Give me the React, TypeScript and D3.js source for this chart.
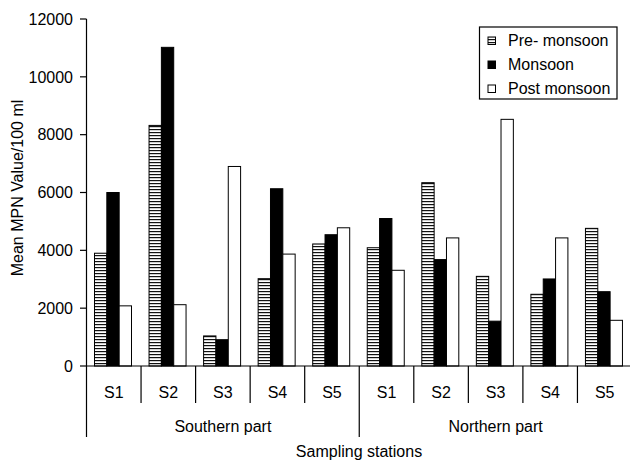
import { scaleBand, scaleLinear } from "d3";

const stations = ["S1", "S2", "S3", "S4", "S5"];
const parts = ["Southern part", "Northern part"];
const seasons = ["Pre- monsoon", "Monsoon", "Post monsoon"];

const southPre = [3900, 8320, 1040, 3020, 4220];
const southMonsoon = [6000, 11020, 910, 6130, 4540];
const southPost = [2080, 2120, 6900, 3870, 4780];

const northPre = [4090, 6340, 3100, 2480, 4760];
const northMonsoon = [5100, 3680, 1550, 3010, 2570];
const northPost = [3310, 4430, 8530, 4430, 1580];

const yTicks = [0, 2000, 4000, 6000, 8000, 10000, 12000];

const FONT = "'Liberation Sans', Arial, sans-serif";
const fontSize = 16;

interface Bar {
	key: string;
	station: string;
	season: string;
	value: number;
}

function buildRows(): Bar[] {
	const rows: Bar[] = [];
	const groups = [
		[southPre, southMonsoon, southPost],
		[northPre, northMonsoon, northPost],
	];
	groups.forEach((series, p) => {
		stations.forEach((station, i) => {
			seasons.forEach((season, s) => {
				rows.push({
					key: `${p}-${station}`,
					station,
					season,
					value: series[s][i],
				});
			});
		});
	});
	return rows;
}

function fillFor(season: string): string {
	if (season === seasons[0]) return "url(#hatch)";
	if (season === seasons[1]) return "#000";
	return "#fff";
}

export default function App() {
	const width = 630;
	const height = 464;
	const left = 86.5;
	const right = 632;
	const top = 19;
	const bottom = 366;

	const keys = parts.flatMap((_, p) => stations.map((s) => `${p}-${s}`));
	const x = scaleBand().domain(keys).range([left, right]);
	const bw = x.bandwidth();
	const x1 = scaleBand().domain(seasons).range([8, 45]);
	const y = scaleLinear().domain([0, 12000]).range([bottom, top]);

	const rows = buildRows();
	const tickBottom = 403;
	const longBottom = 437;

	return (
		<svg width={width} height={height} style={{ position: "absolute", left: 0, top: 0 }} fontFamily={FONT}>
			<defs>
				<pattern id="hatch" patternUnits="userSpaceOnUse" width="4" height="3">
					<rect width="4" height="3" fill="#fff" />
					<rect y="0" width="4" height="1.2" fill="#111" />
				</pattern>
			</defs>
			<rect width={width} height={height} fill="#fff" />

			{rows.map((d, i) => (
				<rect
					key={i}
					x={(x(d.key) ?? 0) + (x1(d.season) ?? 0)}
					y={y(d.value)}
					width={x1.bandwidth()}
					height={bottom - y(d.value)}
					fill={fillFor(d.season)}
					stroke="#000"
					strokeWidth={1}
				/>
			))}

			{/* y axis */}
			<line x1={left} x2={left} y1={top} y2={longBottom} stroke="#000" strokeWidth={1.2} />
			{yTicks.map((t) => (
				<g key={t}>
					<line x1={left - 6.5} x2={left} y1={y(t)} y2={y(t)} stroke="#000" strokeWidth={1.2} />
					<text x={73} y={y(t)} dy="0.36em" textAnchor="end" fontSize={fontSize}>
						{t}
					</text>
				</g>
			))}
			<text
				transform={`translate(17,188) rotate(-90)`}
				textAnchor="middle"
				dy="0.36em"
				fontSize={fontSize}
			>
				Mean MPN Value/100 ml
			</text>

			{/* x axis */}
			<line x1={left} x2={width} y1={bottom} y2={bottom} stroke="#000" strokeWidth={1.2} />
			{keys.map((k, i) => {
				const x0 = x(k) ?? 0;
				const isLong = i % stations.length === 0;
				return (
					<g key={k}>
						{i > 0 && (
							<line
								x1={x0}
								x2={x0}
								y1={bottom}
								y2={isLong ? longBottom : tickBottom}
								stroke="#000"
								strokeWidth={1.2}
							/>
						)}
						<text x={x0 + bw / 2} y={398} textAnchor="middle" fontSize={fontSize}>
							{stations[i % stations.length]}
						</text>
					</g>
				);
			})}
			{parts.map((p, i) => {
				const a = x(keys[i * stations.length]) ?? 0;
				return (
					<text key={p} x={a + (bw * stations.length) / 2} y={432} textAnchor="middle" fontSize={fontSize}>
						{p}
					</text>
				);
			})}
			<text x={359} y={457} textAnchor="middle" fontSize={fontSize}>
				Sampling stations
			</text>

			{/* legend */}
			<rect x={479.5} y={27} width={137.5} height={72} fill="#fff" stroke="#000" strokeWidth={1.2} />
			{seasons.map((s, i) => {
				const cy = 40.5 + i * 24;
				return (
					<g key={s}>
						<rect x={488} y={cy - 3.5} width={7.5} height={7.5} fill={fillFor(s)} stroke="#000" strokeWidth={1} />
						<text x={508} y={cy} dy="0.36em" fontSize={fontSize}>
							{s}
						</text>
					</g>
				);
			})}
		</svg>
	);
}
